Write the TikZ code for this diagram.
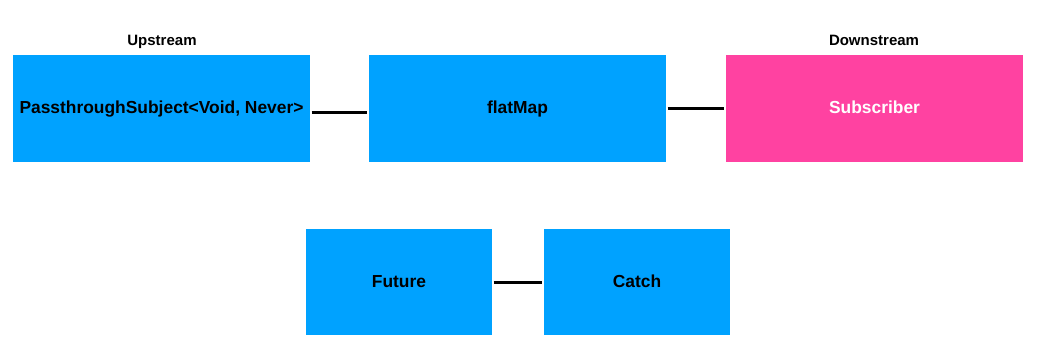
\documentclass[tikz,border=0pt]{standalone}
\usepackage{fontspec}
\setmainfont{Liberation Sans}
\definecolor{kblue}{HTML}{00A2FF}
\definecolor{kpink}{HTML}{FF42A1}
\begin{document}
\begin{tikzpicture}[x=1pt,y=-1pt,
  box/.style={rectangle,fill=kblue,inner sep=0pt,text height=1.15em,text depth=0.06em,font=\fontsize{17.4}{20}\selectfont\bfseries},
  wide/.style={box,minimum width=297pt,minimum height=107pt},
  small/.style={box,minimum width=186pt,minimum height=106pt},
  lbl/.style={font=\fontsize{15}{18}\selectfont\bfseries,inner sep=0pt,text height=1.1em,text depth=0.06em},
  link/.style={line width=3pt,shorten <=1.5pt,shorten >=1.5pt}]
\useasboundingbox (0,0) rectangle (1046,363);
\node[wide] (up) at (161.5,108.5) {PassthroughSubject<Void, Never>};
\node[wide] (fm) at (517.5,108.5) {flatMap};
\node[wide,fill=kpink,text=white] (sub) at (874.5,108.5) {Subscriber};
\node[small] (fut) at (399,282) {Future};
\node[small] (cat) at (637,282) {Catch};
\node[lbl] (ul) at (162,40) {Upstream};
\node[lbl] (dl) at (874,40) {Downstream};
\draw[link] ([yshift=-4.5pt]up.east) -- ([yshift=-4.5pt]fm.west);
\draw[link] ([yshift=0pt]fm.east) -- ([yshift=0pt]sub.west);
\draw[link] (fut.east) -- (cat.west);
\end{tikzpicture}
\end{document}
